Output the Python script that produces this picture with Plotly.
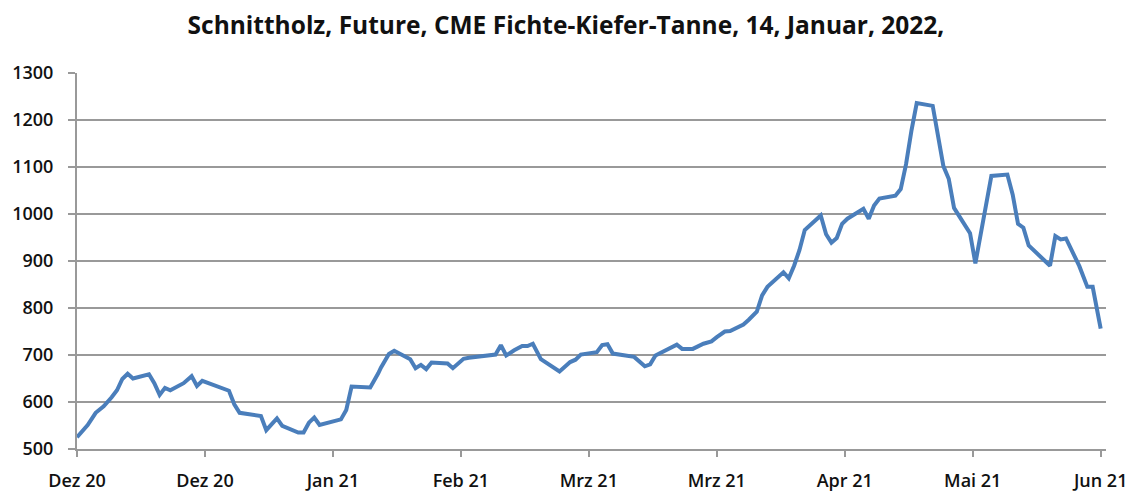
import plotly.graph_objects as go

# Trading position (48 units per axis label step) and price values
positions = [0, 4, 7, 10, 13, 15, 17, 19, 21, 27, 29, 31, 33, 35, 40, 43, 45, 47,
             57, 59, 61, 69, 71, 75, 77, 83, 85, 87, 89, 91, 99, 101, 103, 110,
             113, 114, 117, 119, 125, 127, 129, 131, 133, 139, 141, 145, 147, 157,
             159, 161, 164, 167, 169, 171, 174, 181, 185, 187, 189, 195, 197, 199,
             201, 209, 213, 215, 217, 222, 225, 227, 231, 235, 238, 240, 243, 245,
             250, 252, 255, 257, 259, 265, 267, 269, 271, 273, 279, 281, 283, 285,
             287, 289, 295, 297, 299, 301, 307, 309, 311, 313, 315, 321, 323, 325,
             327, 329, 332, 335, 337, 343, 349, 351, 353, 355, 357, 365, 367, 369,
             371, 376, 379, 381, 384]
prices = [525, 551, 577, 591, 610, 625, 649, 660, 650, 659, 640, 615, 630, 625, 640,
          655, 634, 645, 624, 595, 577, 570, 540, 565, 549, 535, 535, 556, 567, 551,
          563, 583, 633, 631, 661, 673, 702, 709, 691, 672, 679, 670, 684, 682, 672,
          692, 694, 701, 721, 699, 710, 719, 719, 724, 691, 665, 685, 690, 701, 706,
          721, 723, 703, 696, 676, 680, 699, 713, 722, 713, 713, 724, 729, 738, 750,
          751, 765, 775, 792, 827, 845, 876, 863, 890, 923, 966, 997, 957, 939, 949,
          979, 990, 1011, 990, 1018, 1033, 1039, 1053, 1106, 1177, 1236, 1230, 1166,
          1102, 1075, 1013, 986, 959, 895, 1081, 1084, 1041, 979, 971, 933, 890, 953,
          946, 948, 889, 845, 845, 756]

tick_positions = [0, 48, 96, 144, 192, 240, 288, 336, 384]
tick_labels = ["Dez 20", "Dez 20", "Jan 21", "Feb 21", "Mrz 21", "Mrz 21",
               "Apr 21", "Mai 21", "Jun 21"]
y_ticks = [500, 600, 700, 800, 900, 1000, 1100, 1200, 1300]

title_text = "Schnittholz, Future, CME Fichte-Kiefer-Tanne, 14, Januar, 2022,"

fig = go.Figure()
fig.add_trace(go.Scatter(
    x=positions, y=prices, mode="lines",
    line=dict(color="#4a7ebb", width=4),
    showlegend=False, hoverinfo="skip",
))

font_family = "Open Sans, DejaVu Sans, sans-serif"
fig.update_layout(
    width=1124, height=491,
    paper_bgcolor="white", plot_bgcolor="white",
    margin=dict(l=69, r=26, t=65, b=50, autoexpand=False),
    title=dict(text=title_text, x=0.4964, xanchor="center", y=1 - 17 / 491, yanchor="middle",
               font=dict(family=font_family, size=24.5, color="#111111", weight="bold")),
    xaxis=dict(
        range=[0, 386], tickmode="array", tickvals=tick_positions, ticktext=tick_labels,
        automargin=False, ticklabelstandoff=8,
        showgrid=False, zeroline=False, showline=True, linecolor="#999999", linewidth=2,
        ticks="outside", ticklen=6, tickwidth=2, tickcolor="#999999",
        tickfont=dict(family=font_family, size=18, color="#111111", weight=600),
    ),
    yaxis=dict(
        range=[500, 1300], tickmode="array", tickvals=y_ticks,
        automargin=False, ticklabelstandoff=11,
        showgrid=True, gridcolor="#999999", gridwidth=2, zeroline=False,
        showline=True, linecolor="#999999", linewidth=2,
        ticks="outside", ticklen=7, tickwidth=2, tickcolor="#999999",
        tickfont=dict(family=font_family, size=18, color="#111111", weight=600),
    ),
)

fig.write_html("out.html")
